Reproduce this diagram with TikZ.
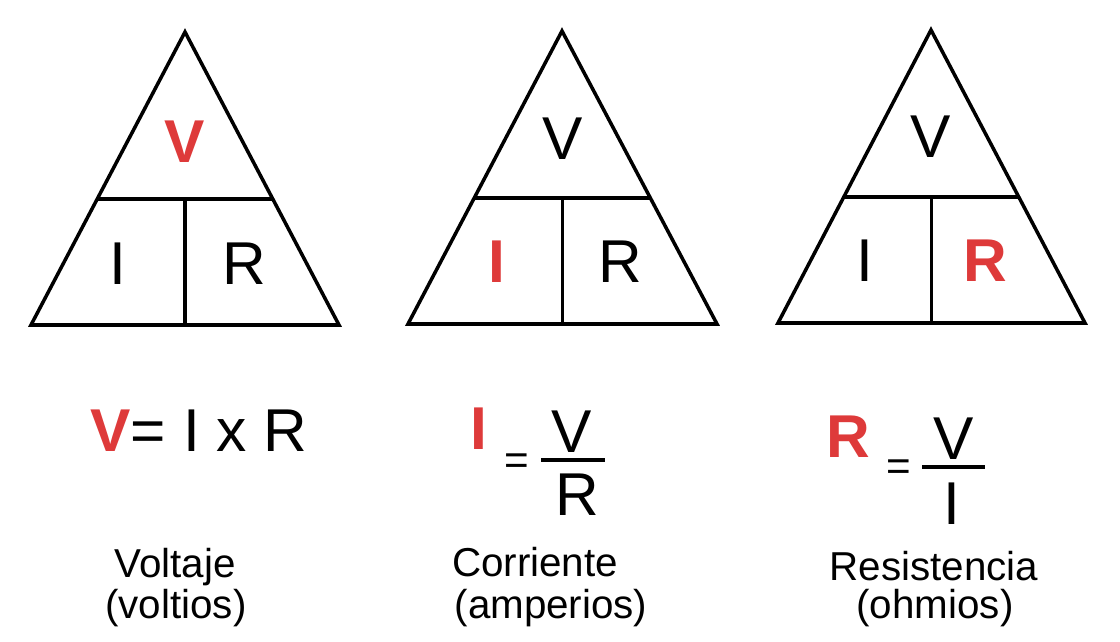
\documentclass[tikz,border=0pt]{standalone}
\usepackage{fontspec}
\setmainfont{Liberation Sans}
\usetikzlibrary{calc}
\definecolor{ohmred}{HTML}{DE3A3A}

\begin{document}
\begin{tikzpicture}[x=0.025cm,y=-0.025cm,line width=2.5pt,line join=miter,
  letter/.style={inner sep=0pt,anchor=base,font=\fontsize{43}{50}\selectfont},
  keyletter/.style={letter,text=ohmred,font=\fontsize{43}{50}\selectfont\bfseries},
  smalleq/.style={inner sep=0pt,anchor=base,font=\fontsize{30}{36}\selectfont},
  caption/.style={inner sep=0pt,anchor=base,font=\fontsize{28.7}{34}\selectfont}]
\useasboundingbox (0,0) rectangle (1120,642);
% voltage triangle
\coordinate (vtop) at (185,32);
\coordinate (vleft) at (31,325);
\coordinate (vright) at (339,325);
\draw (vtop) -- (vleft) -- (vright) -- cycle;
\draw ($(vtop)!0.57!(vleft)$) -- ($(vtop)!0.57!(vright)$);
\draw ($(vleft)!0.5!(vright)$) -- ++(0,-126);
\node[keyletter] (v1) at (185,163) {V};
\node[letter] (i1) at (118,285) {I};
\node[letter] (r1) at (244,285) {R};
% current triangle
\coordinate (itop) at (562,31);
\coordinate (ileft) at (408,324);
\coordinate (iright) at (717,324);
\draw (itop) -- (ileft) -- (iright) -- cycle;
\draw ($(itop)!0.57!(ileft)$) -- ($(itop)!0.57!(iright)$);
\draw ($(ileft)!0.5!(iright)$) -- ++(0,-126);
\node[letter] (v2) at (563,160) {V};
\node[keyletter] (i2) at (497,283) {I};
\node[letter] (r2) at (620,283) {R};
% resistance triangle
\coordinate (rtop) at (931,30);
\coordinate (rleft) at (778,323);
\coordinate (rright) at (1085,323);
\draw (rtop) -- (rleft) -- (rright) -- cycle;
\draw ($(rtop)!0.57!(rleft)$) -- ($(rtop)!0.57!(rright)$);
\draw ($(rleft)!0.5!(rright)$) -- ++(0,-126);
\node[letter] (v3) at (931,158) {V};
\node[letter] (i3) at (865,282) {I};
\node[keyletter] (r3) at (985,282) {R};
% formulas
\node[letter] (lawv) at (199,452) {\textcolor{ohmred}{\bfseries V}= I x R};
\node[keyletter] (lawi) at (479,450) {I};
\node[smalleq] (eqi) at (517,475) {=};
\draw (541,460) -- (605,460);
\node[letter] (numi) at (572,453) {V};
\node[letter] (deni) at (577,516) {R};
\node[keyletter] (lawr) at (848,458) {R};
\node[smalleq] (eqr) at (899,481) {=};
\draw (922,467) -- (985,467);
\node[letter] (numr) at (954,460) {V};
\node[letter] (denr) at (952,525) {I};
% captions
\node[caption] (volt) at (175,578) {Voltaje};
\node[caption] (voltunit) at (176,618) {(voltios)};
\node[caption] (curr) at (535,577) {Corriente};
\node[caption] (currunit) at (551,618) {(amperios)};
\node[caption] (res) at (934,581) {Resistencia};
\node[caption] (resunit) at (935,619) {(ohmios)};
\end{tikzpicture}
\end{document}
